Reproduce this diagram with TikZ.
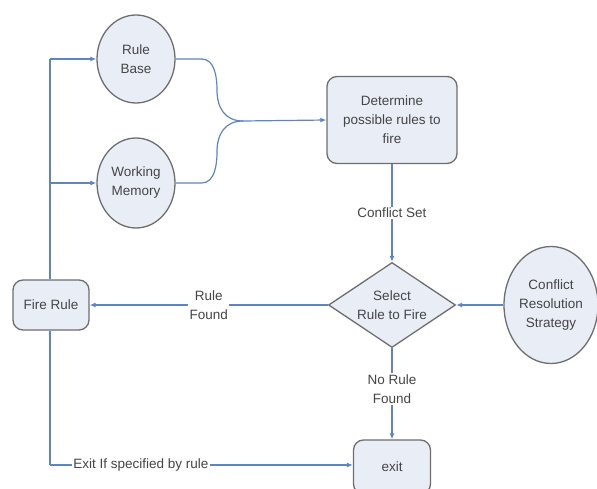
\documentclass[tikz,border=0pt]{standalone}
\usepackage{fontspec}
\setmainfont{Liberation Sans}
\usetikzlibrary{shapes.geometric,arrows.meta}
\definecolor{lineblue}{HTML}{5F84C2}
\definecolor{shapefill}{HTML}{E9EDF6}
\definecolor{shapeedge}{HTML}{6E6E6E}
\definecolor{txt}{HTML}{454545}
\begin{document}
\begin{tikzpicture}[x=1pt,y=1pt,
  every node/.style={text=txt,font=\fontsize{13.5}{19}\selectfont,align=center,inner sep=0pt},
  roundbox/.style={draw=shapeedge,fill=shapefill,line width=1.3pt,rounded corners=10pt,rectangle},
  oval/.style={draw=shapeedge,fill=shapefill,line width=1.3pt,ellipse},
  decision/.style={draw=shapeedge,fill=shapefill,line width=1.3pt,diamond,aspect=1.5},
  conn/.style={draw=lineblue,line width=1.2pt},
  arr/.style={conn,-{Latex[length=6pt,width=5pt]}},
  lab/.style={fill=white,inner sep=1.5pt}]
\useasboundingbox (0,0) rectangle (597,488);
\begin{scope}
\clip (0,0) rectangle (597,488);
\node[oval,minimum width=78pt,minimum height=88pt] (rb) at (136,429) {Rule\\Base};
\node[oval,minimum width=78pt,minimum height=90pt] (wm) at (136,305) {Working\\Memory};
\node[roundbox,minimum width=130pt,minimum height=87pt] (det) at (392,368) {Determine\\possible rules to\\fire};
\node[decision,minimum width=127pt,minimum height=85pt] (sel) at (392,183) {Select\\Rule to Fire};
\node[oval,minimum width=94pt,minimum height=117pt] (crs) at (551,183) {Conflict\\Resolution\\Strategy};
\node[roundbox,minimum width=76pt,minimum height=50pt] (fire) at (51,183) {Fire Rule};
\node[roundbox,minimum width=77pt,minimum height=54pt] (exit) at (392,21) {exit};
\end{scope}
\coordinate (merge) at (243,367);
\coordinate (top) at (50,429);
\coordinate (bot) at (50,23);
% brace connectors
\draw[conn] (rb.east) -- ++(26,0) .. controls (215,429) and (217,410) .. (217,398)
  .. controls (217,380) and (225,367) .. (merge);
\draw[conn] (wm.east) -- ++(26,0) .. controls (215,305) and (217,324) .. (217,336)
  .. controls (217,354) and (225,367) .. (merge);
\draw[arr] (merge) -- (det.west);
% left loop
\draw[conn] (fire.north -| top) -- (top);
\draw[arr] (top) -- (rb.west);
\draw[arr] (fire.north -| top) |- (wm.west);
% main flow
\draw[arr] (det.south) -- node[lab,pos=0.5] {Conflict Set} (sel.north);
\draw[arr] (crs.west) -- (sel.east);
\draw[arr] (sel.west) -- node[lab,pos=0.5] {Rule\\Found} (fire.east);
\draw[arr] (sel.south) -- node[lab,pos=0.45] {No Rule\\Found} (exit.north);
\draw[conn] (fire.south -| bot) -- (bot);
\draw[arr] (bot) -- node[lab,pos=0.3] {Exit If specified by rule} (bot -| exit.west);
\end{tikzpicture}
\end{document}
